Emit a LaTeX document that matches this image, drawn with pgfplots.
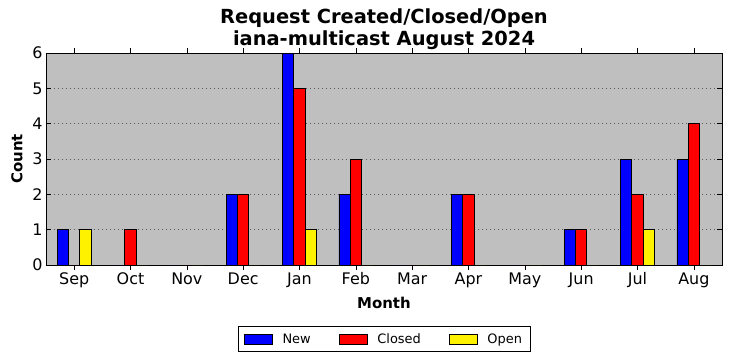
\documentclass[border=0pt]{standalone}
\usepackage{fontspec}
\setmainfont{DejaVu Sans}
\usepackage{pgfplots}
\pgfplotsset{compat=1.18}
\definecolor{bgray}{HTML}{BFBFBF}
\begin{document}
\begin{tikzpicture}
\path[use as bounding box] (-46bp,-96bp) rectangle (686bp,265bp);
\begin{axis}[
  scale only axis,
  width=676bp, height=212bp,
  xmin=-0.5, xmax=11.5, ymin=0, ymax=6,
  axis background/.style={fill=bgray},
  xtick={0,...,11},
  xticklabels={Sep,Oct,Nov,Dec,Jan,Feb,Mar,Apr,May,Jun,Jul,Aug},
  ytick={0,...,6},
  tick align=inside,
  xtick pos=both, ytick pos=both,
  major tick length=5bp,
  tick style={black, line width=0.6pt},
  ymajorgrids,
  grid style={gray!70!black, line width=0.5pt, dash pattern=on 1bp off 3bp},
  axis line style={black, line width=0.8pt},
  /pgf/number format/assume math mode=true,
  tick label style={font=\fontsize{16}{18}\selectfont},
  xticklabel style={yshift=1bp},
  xlabel={\textbf{Month}}, ylabel={\textbf{Count}},
  label style={font=\fontsize{15}{17}\selectfont},
  xlabel style={at={(axis description cs:0.5,-0.179)}, anchor=center},
  ylabel style={at={(axis description cs:-0.0429,0.5)}, anchor=center},
  title={\textbf{Request Created/Closed/Open}\\\textbf{iana-multicast August 2024}},
  title style={font=\fontsize{19.5}{22}\selectfont, align=center, at={(axis description cs:0.5,1.082)}, anchor=center},
  ybar, bar width=0.2,
  legend style={at={(0.5,-0.288)}, anchor=north, legend columns=3,
    font=\fontsize{13}{15}\selectfont, draw=black, line width=0.8pt,
    inner xsep=6bp, inner ysep=5bp,
    /tikz/every odd column/.append style={column sep=8bp},
    /tikz/every even column/.append style={column sep=26bp}},
  legend image code/.code={\draw[#1, line width=0.6pt] (0bp,-5bp) rectangle (28bp,5bp);},
]
\addplot[draw=black, fill=blue, bar shift=-0.2, line width=0.8pt] coordinates {(0,1)(1,0)(2,0)(3,2)(4,6)(5,2)(6,0)(7,2)(8,0)(9,1)(10,3)(11,3)};
\addplot[draw=black, fill=red, bar shift=0, line width=0.8pt] coordinates {(0,0)(1,1)(2,0)(3,2)(4,5)(5,3)(6,0)(7,2)(8,0)(9,1)(10,2)(11,4)};
\addplot[draw=black, fill=yellow, bar shift=0.2, line width=0.8pt] coordinates {(0,1)(1,0)(2,0)(3,0)(4,1)(5,0)(6,0)(7,0)(8,0)(9,0)(10,1)(11,0)};
\legend{New,Closed,Open}
\end{axis}
\end{tikzpicture}
\end{document}
